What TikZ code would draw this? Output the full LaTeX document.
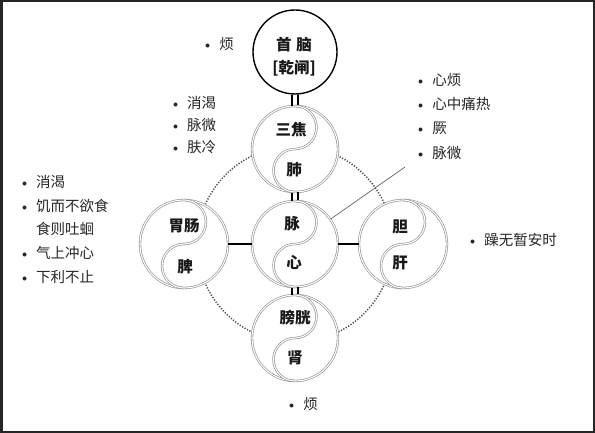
\documentclass[tikz,border=0pt]{standalone}
\usepackage{fontspec}
\newfontfamily\cjk{Noto Sans CJK SC}
\newcommand\mybul{{\rmfamily\textbullet}\hspace{6pt}}
\newcommand\mytaiji[3]{\draw[ring] (#1,#2+#3) arc[start angle=90,end angle=-90,radius=#3/2] arc[start angle=90,end angle=270,radius=#3/2];}
\begin{document}
\begin{tikzpicture}[x=1pt,y=1pt,
  ring/.style={draw=black!45, double=white, double distance=1.1pt, line width=0.6pt},
  organ/.style={font=\cjk\bfseries\fontsize{15.5}{15.5}\selectfont, text=black!90, inner sep=0pt},
  item/.style={font=\cjk\fontsize{14.5}{14.5}\selectfont, text=black!85, anchor=west, inner sep=0pt},
  ball/.style={circle, inner sep=0pt, fill=white, ring},
  bar/.style={line width=2.6pt, black},
  pipe/.style={line width=2.2pt, black}]
\useasboundingbox (0,0) rectangle (595,-433);
\fill[white] (0,0) rectangle (595,-433);
\draw[line width=5pt, black!85] (0,0) rectangle (595,-433);

% dotted ring
\coordinate (o) at (295,-244);
\draw[line width=1.5pt, black!70, dash pattern=on 1.2pt off 1.6pt] (o) circle[radius=98];

% circles
\node[circle, inner sep=0pt, minimum size=84pt, draw=black, line width=1.4pt, fill=white] (head) at (295,-52) {};
\node[ball, minimum size=86pt] (top) at (295,-149) {};
\node[ball, minimum size=86pt] (c) at (295,-244) {};
\node[ball, minimum size=86pt] (bot) at (295,-338) {};
\node[ball, minimum size=88pt] (l) at (184,-244) {};
\node[ball, minimum size=88pt] (r) at (403,-244) {};

% connectors
\draw[pipe] ([xshift=-2.7pt]head.south) -- ([xshift=-2.7pt]top.north);
\draw[pipe] ([xshift=2.7pt]head.south) -- ([xshift=2.7pt]top.north);
\draw[pipe] ([xshift=-2.7pt]top.south) -- ([xshift=-2.7pt]c.north);
\draw[pipe] ([xshift=2.7pt]top.south) -- ([xshift=2.7pt]c.north);
\draw[pipe] ([xshift=-2.7pt]c.south) -- ([xshift=-2.7pt]bot.north);
\draw[pipe] ([xshift=2.7pt]c.south) -- ([xshift=2.7pt]bot.north);
\draw[bar] (l.east) -- (c.west);
\draw[bar] (c.east) -- (r.west);
\coordinate (p) at (405,-167);
\draw[black!60, line width=0.7pt] (c.35) -- (p);

% yin-yang curves
\mytaiji{295}{-149}{43}
\mytaiji{295}{-244}{43}
\mytaiji{295}{-338}{43}
\mytaiji{184}{-244}{44}
\mytaiji{403}{-244}{44}

% circle texts
\node[organ] (h1) at (294,-45) {首\hspace{5pt}脑};
\node[organ] (h2) at (294,-68) {[乾闸]};
\node[organ] (t1) at (291,-130) {三焦};
\node[organ] (t2) at (294,-170) {肺};
\node[organ] (c1) at (292,-224) {脉};
\node[organ] (c2) at (294,-262) {心};
\node[organ] (l1) at (184,-226) {胃肠};
\node[organ] (l2) at (185,-267) {脾};
\node[organ] (r1) at (400,-227) {胆};
\node[organ] (r2) at (400,-263) {肝};
\node[organ] (b1) at (295,-318) {膀胱};
\node[organ] (b2) at (295,-358) {肾};

% lists
\node[item] (a1) at (202,-44) {\mybul 烦};
\node[item] (s1) at (170,-103) {\mybul 消渴};
\node[item] (s2) at (170,-125) {\mybul 脉微};
\node[item] (s3) at (170,-147) {\mybul 肤冷};
\node[item] (x1) at (415,-80) {\mybul 心烦};
\node[item] (x2) at (415,-104) {\mybul 心中痛热};
\node[item] (x3) at (415,-128) {\mybul 厥};
\node[item] (x4) at (415,-153) {\mybul 脉微};
\node[item] (w1) at (19,-182) {\mybul 消渴};
\node[item] (w2) at (19,-206) {\mybul 饥而不欲食};
\node[item] (w3) at (19,-229) {\phantom{\mybul}食则吐蛔};
\node[item] (w4) at (19,-253) {\mybul 气上冲心};
\node[item] (w5) at (19,-277) {\mybul 下利不止};
\node[item] (e1) at (467,-240) {\mybul 躁无暂安时};
\node[item] (d1) at (286,-404) {\mybul 烦};
\end{tikzpicture}
\end{document}
